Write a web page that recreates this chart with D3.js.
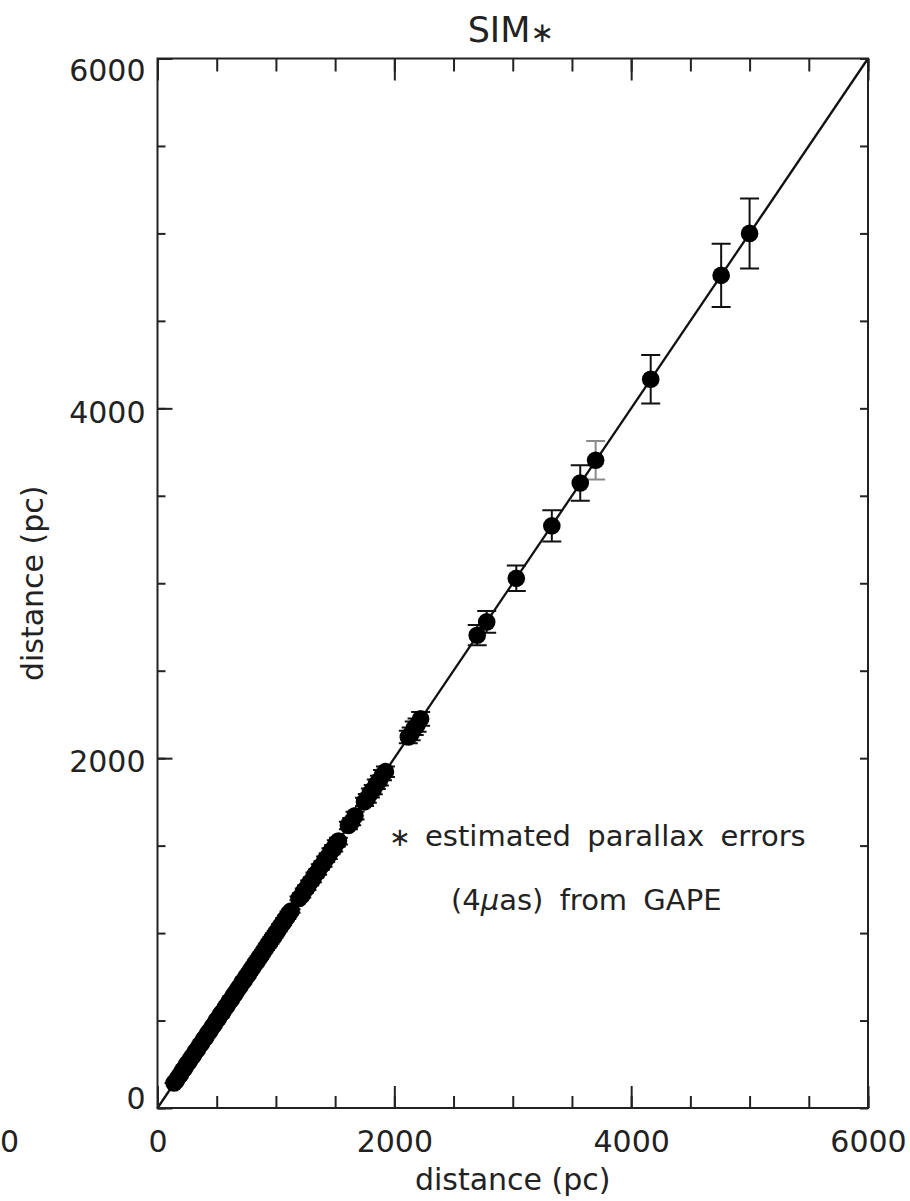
<!DOCTYPE html>
<html>
<head>
<meta charset="utf-8">
<script src="https://cdn.jsdelivr.net/npm/d3@7"></script>
<style>
  html, body { margin: 0; padding: 0; background: #fff; }
  svg { display: block; }
  text { font-family: "DejaVu Sans", sans-serif; fill: #222; }
  .tick line { stroke: #222; stroke-width: 2; }
  .domain { display: none; }
</style>
</head>
<body>
<svg id="chart" width="910" height="1201"></svg>
<script>
// --- data (pc) ---
const trueDist = [
  140, 158, 177, 194, 212, 231, 248, 266, 284, 301, 319, 337, 355, 372, 391, 409,
  426, 444, 463, 480, 498, 517, 534, 552, 571, 588, 606, 625, 642, 660, 679, 696,
  714, 733, 750, 768, 787, 804, 822, 841, 858, 876, 895, 912, 930, 949, 966, 984,
  1003, 1020, 1038, 1057, 1074, 1092, 1111, 1128,
  1195, 1218, 1240, 1262, 1285, 1308, 1330, 1352, 1375, 1398, 1420, 1442, 1465, 1488, 1510, 1528,
  1612, 1640, 1668,
  1748, 1772, 1798, 1822, 1848, 1874, 1900, 1925,
  2118, 2142, 2168, 2192, 2222,
  2700, 2780, 3030, 3330, 3570, 3700, 4165, 4760, 5000
];
const estDist = [
  143, 156, 178, 192, 215, 229, 251, 264, 286, 299, 322, 334, 358, 370, 393, 406,
  429, 442, 465, 478, 501, 514, 537, 549, 573, 586, 609, 622, 645, 657, 681, 694,
  717, 730, 753, 765, 789, 802, 825, 838, 861, 873, 897, 910, 933, 946, 969, 981,
  1005, 1018, 1041, 1054, 1077, 1090, 1113, 1126,
  1198, 1215, 1243, 1259, 1287, 1305, 1333, 1349, 1378, 1395, 1422, 1440, 1468, 1485, 1513, 1526,
  1615, 1637, 1671,
  1750, 1770, 1801, 1820, 1851, 1872, 1903, 1923,
  2121, 2139, 2171, 2189, 2225,
  2703, 2779, 3028, 3328, 3573, 3703, 4166, 4760, 5000
];
const distErr = [
  0, 0, 0, 0, 0, 0, 0, 1, 1, 1, 1, 1, 1, 1, 1, 1,
  1, 2, 2, 2, 2, 2, 2, 2, 3, 3, 3, 3, 3, 3, 4, 4,
  4, 4, 5, 5, 5, 5, 5, 6, 6, 6, 6, 7, 7, 7, 7, 8,
  8, 8, 9, 9, 9, 10, 10, 10,
  11, 12, 12, 13, 13, 14, 14, 15, 15, 16, 16, 17, 17, 18, 18, 19,
  21, 21, 22,
  24, 25, 26, 27, 27, 28, 29, 30,
  36, 37, 38, 38, 39,
  58, 62, 73, 89, 102, 110, 139, 181, 200
];
// error bar drawn faded in the original figure
const fadedBars = [3700];

const axisRange = [0, 6000];
const majorTicks = [0, 2000, 4000, 6000];
const minorTicks = [0, 500, 1000, 1500, 2000, 2500, 3000, 3500, 4000, 4500, 5000, 5500, 6000];

const titleText = "SIM";
const xLabel = "distance (pc)";
const yLabel = "distance (pc)";
const noteLine1 = "estimated parallax errors";
const noteLine2a = "(4";
const noteLine2mu = "μ";
const noteLine2b = "as) from GAPE";
const strayLabel = "0"; // visible tail of the neighbouring panel's tick label

// --- layout ---
const svg = d3.select("#chart");
const plotLeft = 157.5, plotRight = 868, plotTop = 58.5, plotBottom = 1108;

const x = d3.scaleLinear().domain(axisRange).range([plotLeft, plotRight]);
const y = d3.scaleLinear().domain(axisRange).range([plotBottom, plotTop]);

svg.append("rect").attr("width", 910).attr("height", 1201).attr("fill", "#fff");

const points = trueDist.map((d, i) => ({ t: d, e: estDist[i], err: distErr[i] }));

// one-to-one line
svg.append("line")
  .attr("x1", x(axisRange[0])).attr("y1", y(axisRange[0]))
  .attr("x2", x(axisRange[1])).attr("y2", y(axisRange[1]))
  .attr("stroke", "#111").attr("stroke-width", 2.3);

// error bars
const capHalf = 9.5;
const bars = svg.append("g").attr("fill", "none").attr("stroke-width", 2);
bars.selectAll("path")
  .data(points)
  .join("path")
  .attr("stroke", d => fadedBars.includes(d.t) ? "#8a8a8a" : "#111")
  .attr("d", d => {
    const cx = x(d.t), y0 = y(d.e - d.err), y1 = y(d.e + d.err);
    return `M${cx},${y0}V${y1}M${cx - capHalf},${y0}H${cx + capHalf}M${cx - capHalf},${y1}H${cx + capHalf}`;
  });

// markers
svg.append("g").selectAll("circle")
  .data(points)
  .join("circle")
  .attr("cx", d => x(d.t))
  .attr("cy", d => y(d.e))
  .attr("r", 8.8)
  .attr("fill", "#000");

// --- axes: minor + major ticks, pointing inward ---
const fontSize = 30;

svg.append("g").attr("transform", `translate(0,${plotBottom})`)
  .call(d3.axisBottom(x).tickValues(minorTicks).tickSizeInner(-12).tickSizeOuter(0).tickFormat(""));
const xMajor = svg.append("g").attr("transform", `translate(0,${plotBottom})`)
  .call(d3.axisBottom(x).tickValues(majorTicks).tickSizeInner(-22).tickSizeOuter(0).tickPadding(23).tickFormat(d3.format("d")));
xMajor.selectAll("text").style("font-size", fontSize + "px");

svg.append("g").attr("transform", `translate(0,${plotTop})`)
  .call(d3.axisTop(x).tickValues(minorTicks).tickSizeInner(-13).tickSizeOuter(0).tickFormat(""));
svg.append("g").attr("transform", `translate(0,${plotTop})`)
  .call(d3.axisTop(x).tickValues(majorTicks).tickSizeInner(-22).tickSizeOuter(0).tickFormat(""));

svg.append("g").attr("transform", `translate(${plotLeft},0)`)
  .call(d3.axisLeft(y).tickValues(minorTicks).tickSizeInner(-8).tickSizeOuter(0).tickFormat(""));
const yMajor = svg.append("g").attr("transform", `translate(${plotLeft},0)`)
  .call(d3.axisLeft(y).tickValues(majorTicks).tickSizeInner(-15).tickSizeOuter(0).tickPadding(12).tickFormat(d3.format("d")));
yMajor.selectAll("text")
  .style("font-size", fontSize + "px")
  .attr("dy", d => d === axisRange[1] ? "0.72em" : d === axisRange[0] ? "0.03em" : "0.46em");

svg.append("g").attr("transform", `translate(${plotRight},0)`)
  .call(d3.axisRight(y).tickValues(minorTicks).tickSizeInner(-8).tickSizeOuter(0).tickFormat(""));

// frame
svg.append("rect")
  .attr("x", plotLeft).attr("y", plotTop)
  .attr("width", plotRight - plotLeft).attr("height", plotBottom - plotTop)
  .attr("fill", "none").attr("stroke", "#222").attr("stroke-width", 2);

// --- labels ---
const title = svg.append("text")
  .attr("x", (plotLeft + plotRight) / 2 - 2).attr("y", 42)
  .attr("text-anchor", "middle")
  .style("font-size", "35px");
title.append("tspan").text(titleText);
title.append("tspan").text("∗").style("font-size", "28px");

svg.append("text")
  .attr("x", (plotLeft + plotRight) / 2).attr("y", 1190)
  .attr("text-anchor", "middle")
  .style("font-size", fontSize + "px")
  .text(xLabel);

svg.append("text")
  .attr("transform", `translate(43,${(plotTop + plotBottom) / 2}) rotate(-90)`)
  .attr("text-anchor", "middle")
  .style("font-size", fontSize + "px")
  .text(yLabel);

svg.append("text")
  .attr("x", 0).attr("y", 1152)
  .style("font-size", fontSize + "px")
  .text(strayLabel);

// note
svg.append("text")
  .attr("x", 400).attr("y", 846)
  .attr("text-anchor", "middle")
  .style("font-size", "26px")
  .text("∗");
svg.append("text")
  .attr("x", 425).attr("y", 846)
  .style("font-size", "29px")
  .style("word-spacing", "7px")
  .text(noteLine1);
const note2 = svg.append("text")
  .attr("x", 451).attr("y", 910)
  .style("font-size", "29px")
  .style("word-spacing", "7px");
note2.append("tspan").text(noteLine2a);
note2.append("tspan").text(noteLine2mu).style("font-style", "italic");
note2.append("tspan").text(noteLine2b);
</script>
</body>
</html>
